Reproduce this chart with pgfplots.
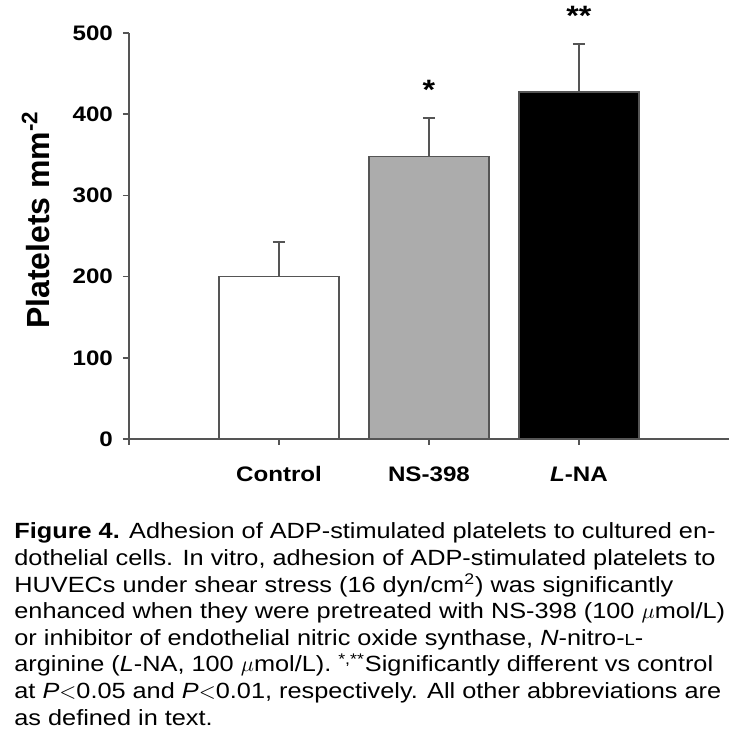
\documentclass[border=0pt]{standalone}
\usepackage{pgfplots}
\pgfplotsset{compat=1.18}
\usepackage{fontspec}
\setmainfont{Liberation Sans}[FakeStretch=1.15]
\newfontfamily\ylabfont{Liberation Sans}
\definecolor{axisgray}{RGB}{85,85,85}
\definecolor{bargray}{RGB}{172,172,172}
\newcommand{\smallL}{{\fontsize{8}{9}\selectfont L}}
\begin{document}
\begin{tikzpicture}
\begin{axis}[
  at={(0,0)}, anchor=south west,
  scale only axis, width=300pt, height=203pt,
  xmin=0, xmax=4, ymin=0, ymax=500,
  axis lines*=left,
  axis line style={axisgray, line width=1pt},
  xtick={0,1,2,3}, xticklabels={,Control,NS-398,\textit{L}-NA},
  ytick={0,100,...,500},
  tick align=outside, major tick length=3pt,
  tick style={axisgray, line width=0.8pt},
  /pgf/number format/assume math mode=true,
  ticklabel style={font=\bfseries\fontsize{10.5}{12}\selectfont},
  yticklabel style={xshift=-1.5pt},
  xticklabel style={anchor=base, yshift=-18.5pt},
  ylabel={Platelets mm\textsuperscript{-2}},
  ylabel style={font=\ylabfont\bfseries\fontsize{16}{18}\selectfont, at={(axis description cs:-0.155,0.54)}, anchor=center},
  clip=false,
  error bars/error bar style={axisgray, line width=1pt},
  error bars/error mark options={axisgray, line width=1pt, mark size=3pt, rotate=90},
]
\addplot[ybar, bar width=60pt, fill=white, draw=axisgray, line width=0.8pt,
  error bars/.cd, y dir=plus, y explicit] coordinates {(1,200) +- (0,42)};
\addplot[ybar, bar width=60pt, fill=bargray, draw=axisgray, line width=0.8pt,
  error bars/.cd, y dir=plus, y explicit] coordinates {(2,348) +- (0,47)};
\addplot[ybar, bar width=60pt, fill=black, draw=axisgray, line width=0.8pt,
  error bars/.cd, y dir=plus, y explicit] coordinates {(3,427) +- (0,60)};
\node[anchor=base, font=\bfseries\fontsize{14}{16}\selectfont, inner sep=0pt] at (axis cs:2,418) {*};
\node[anchor=base, font=\bfseries\fontsize{14}{16}\selectfont, inner sep=0pt] at (axis cs:3,509) {**};
\end{axis}
\begin{scope}[every node/.style={anchor=base west, inner sep=0pt, font=\fontsize{11}{13}\selectfont}]
\node at (-57.5pt,-50pt) {\textbf{Figure 4.} Adhesion of ADP-stimulated platelets to cultured en-};
\node at (-57.5pt,-63.3pt) {dothelial cells. In vitro, adhesion of ADP-stimulated platelets to};
\node at (-57.5pt,-76.6pt) {HUVECs under shear stress (16 dyn/cm\textsuperscript{2}) was significantly};
\node at (-57.5pt,-89.9pt) {enhanced when they were pretreated with NS-398 (100 $\mu$mol/L)};
\node at (-57.5pt,-103.2pt) {or inhibitor of endothelial nitric oxide synthase, \textit{N}-nitro-\smallL-};
\node at (-57.5pt,-116.5pt) {arginine (\textit{L}-NA, 100 $\mu$mol/L). \textsuperscript{*,**}Significantly different vs control};
\node at (-57.5pt,-129.8pt) {at \textit{P}$<$0.05 and \textit{P}$<$0.01, respectively. All other abbreviations are};
\node at (-57.5pt,-143.1pt) {as defined in text.};
\end{scope}
\pgfresetboundingbox
\path[use as bounding box] (-64.5pt,-149pt) rectangle (306pt,219.5pt);
\end{tikzpicture}
\end{document}
